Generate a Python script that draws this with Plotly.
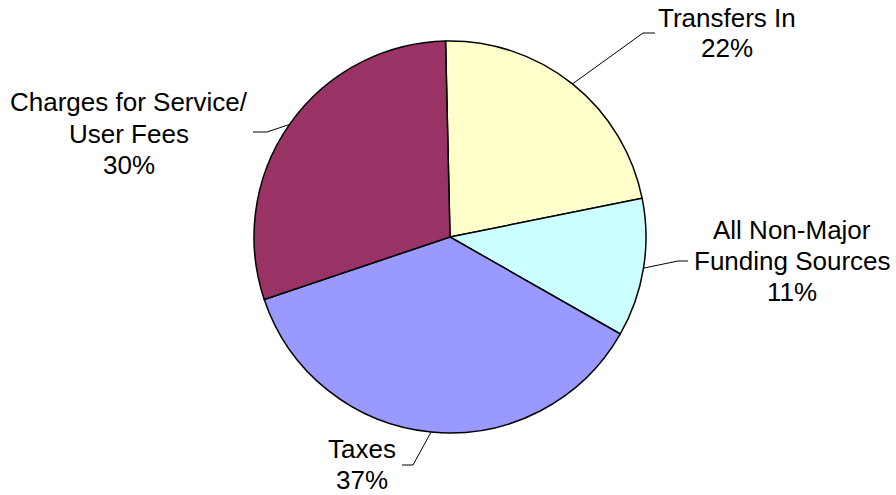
import math
import plotly.graph_objects as go

# Funding sources, in slice order (clockwise from 12 o'clock)
categories = ["Transfers In", "All Non-Major Funding Sources", "Taxes", "Charges for Service/ User Fees"]
label_lines = [
    ["Transfers In"],
    ["All Non-Major", "Funding Sources"],
    ["Taxes"],
    ["Charges for Service/", "User Fees"],
]
shares = [22.2, 11.4, 36.6, 29.8]
colors = ["#FFFFCC", "#CCFFFF", "#9999FF", "#993366"]

W, H = 896, 495
M_L, M_R, M_T, M_B = 4, 0, 41, 62
PW, PH = W - M_L - M_R, H - M_T - M_B
ROT = -1.3
CX, CY = M_L + PW / 2, M_T + PH / 2
R = min(PW, PH) / 2

FONT = "Liberation Sans, Arial, sans-serif"
FS = 26
LINE_GAP = 31

# Label placement: (text centre x, first line centre y, elbow point, end point) in pixels
placement = [
    (727, 17.5, (643, 33), (655, 33)),
    (792, 229.5, (678, 261), (688, 261)),
    (362, 449, (413, 465), (402, 465)),
    (129, 102.5, (267, 132), (253, 132)),
]


def px(x):
    return (x - M_L) / PW


def py(y):
    return 1 - (y - M_T) / PH


fig = go.Figure(
    go.Pie(
        labels=categories,
        values=shares,
        sort=False,
        direction="clockwise",
        rotation=ROT,
        marker=dict(colors=colors, line=dict(color="#000000", width=1.5)),
        textinfo="none",
        hoverinfo="label+percent",
        showlegend=False,
        domain=dict(x=[0, 1], y=[0, 1]),
    )
)

total = sum(shares)
annotations = []
shapes = []
start = 0.0
for name_lines, v, (tx, ty, elbow, end) in zip(label_lines, shares, placement):
    mid = ROT + (start + v / 2) / total * 360
    start += v
    a = math.radians(mid)
    sx, sy = CX + R * math.sin(a), CY - R * math.cos(a)
    path = f"M {px(sx)},{py(sy)} L {px(elbow[0])},{py(elbow[1])} L {px(end[0])},{py(end[1])}"
    shapes.append(dict(type="path", xref="paper", yref="paper", path=path,
                       line=dict(color="#000000", width=1)))
    lines = name_lines + [f"{round(v / total * 100)}%"]
    for i, line in enumerate(lines):
        annotations.append(dict(
            text=line, xref="paper", yref="paper",
            x=px(tx), y=py(ty + i * LINE_GAP),
            xanchor="center", yanchor="middle", showarrow=False,
            font=dict(family=FONT, size=FS, color="#000000"),
        ))

fig.update_layout(
    width=W, height=H,
    margin=dict(l=M_L, r=M_R, t=M_T, b=M_B, pad=0),
    paper_bgcolor="#FFFFFF",
    plot_bgcolor="#FFFFFF",
    annotations=annotations,
    shapes=shapes,
)

fig.write_html("out.html")
